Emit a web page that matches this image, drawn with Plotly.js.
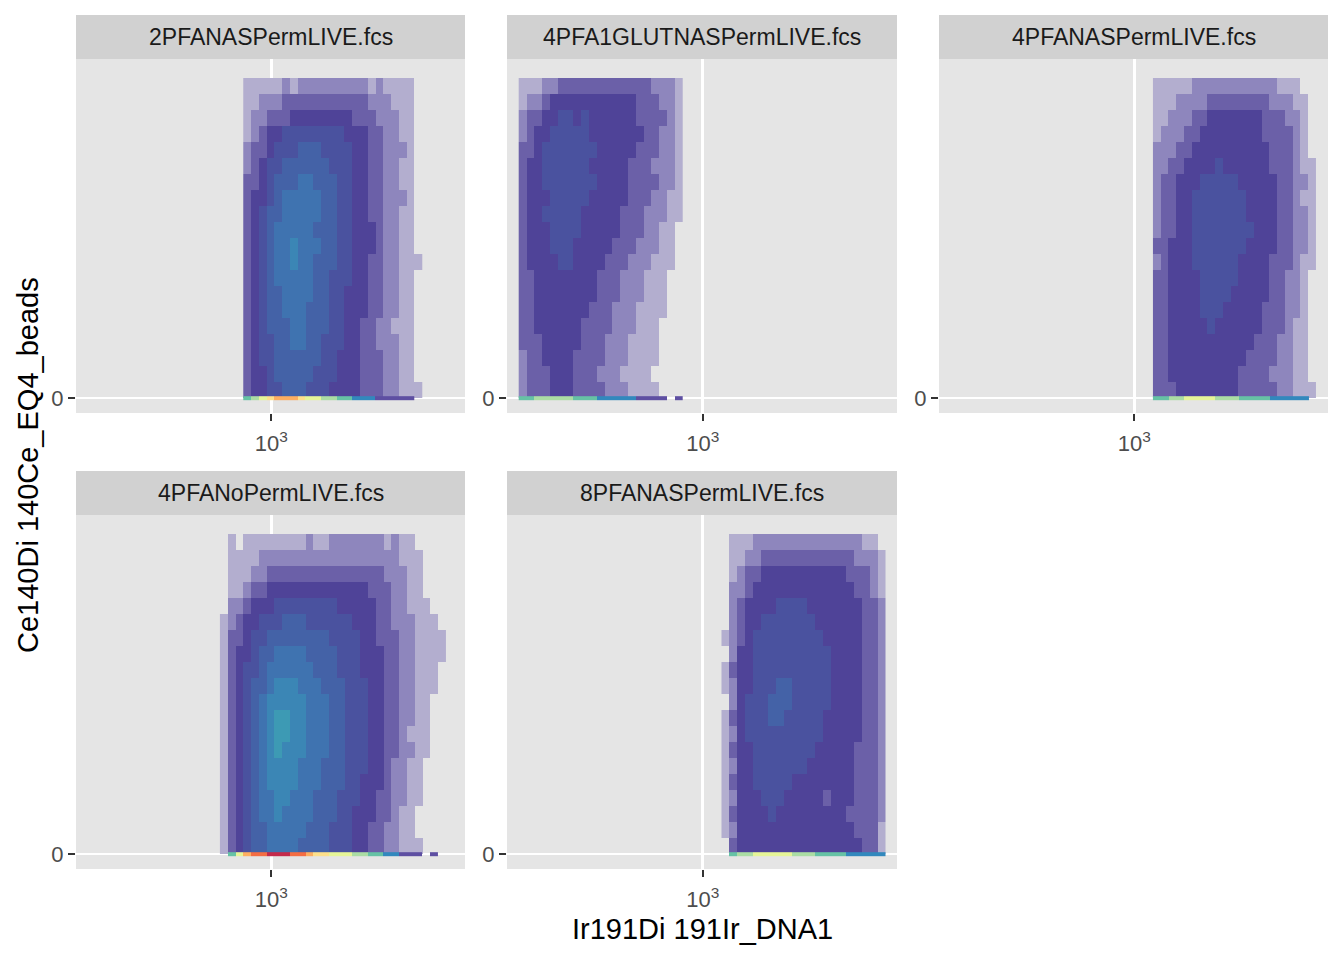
<!DOCTYPE html>
<html>
<head>
<meta charset="utf-8">
<script src="https://cdn.plot.ly/plotly-3.0.1.min.js"></script>
<style>
  html, body { margin: 0; padding: 0; background: #ffffff; }
  #myDiv { width: 1344px; height: 960px; }
</style>
</head>
<body>
<div id="myDiv"></div>
<script>
// facet names (one panel per .fcs file)
const panelNames = [
  '2PFANASPermLIVE.fcs',
  '4PFA1GLUTNASPermLIVE.fcs',
  '4PFANASPermLIVE.fcs',
  '4PFANoPermLIVE.fcs',
  '8PFANASPermLIVE.fcs'
];

// index of the first x bin of every panel (bins are 1 unit wide on the transformed x scale)
const firstBin = [22, 2, 28, 19, 28];

// y bin centres, top row first (bins are 2 units tall)
const rowCenters = [39, 37, 35, 33, 31, 29, 27, 25, 23, 21, 19, 17, 15, 13, 11, 9, 7, 5, 3, 1];

// density level per hex bin, 0 = empty, 9 = densest
const dens2PFANAS = [
  '11111212222222221211110',
  '11222333333333332221110',
  '12233344444444333222110',
  '12344555555554443322110',
  '23345556665555443322210',
  '23455666666555443322110',
  '33456667766655443322110',
  '34456777776655443322210',
  '34566777776655443322110',
  '34567777766655444322110',
  '34567787776655444322110',
  '34567787766655443322111',
  '34567777766555443322110',
  '34566777766554443322110',
  '34566777666554443322110',
  '34566677666554433221110',
  '34556677665554433222110',
  '34556666665544433322110',
  '34456666655544433322110',
  '34455666555444433322111'
];
const dens4PFA1GLUT = [
  '111223333333333332221',
  '122344444444444333221',
  '233445545444444333321',
  '234455555444444433221',
  '334555555544444333221',
  '344555555444443332221',
  '344555555544443333221',
  '344455555444443332211',
  '344555554444433322211',
  '344455554444433322110',
  '344455544444333222110',
  '344445544443332221110',
  '334444444433322211100',
  '334444444433322211100',
  '334444444333222111100',
  '334444443333222111000',
  '333444443332221111000',
  '233444433332221111000',
  '233344433322211110000',
  '233344433332221111000'
];
const dens4PFANAS = [
  '111112222222222211100',
  '111222233333333222110',
  '112223344444443332210',
  '122233444444443333210',
  '222334444444444333210',
  '223344445444444333211',
  '233444555554444433221',
  '233445555555444433211',
  '233445555555444433221',
  '233445555555544433221',
  '334445555555444433221',
  '234445555554444333211',
  '334444555554444332210',
  '334444555544444332210',
  '334444555444443332210',
  '334444454444443332110',
  '334444444444433322110',
  '334444444444333322110',
  '334444444443333222110',
  '333444444443333322111'
];
const dens4PFANoPerm = [
  '01011111111211222222212110000',
  '01111222222222222222222111000',
  '01112233333333333333322211000',
  '01123344444444444443332211000',
  '02234445555555544444332211100',
  '12344555666555555444332221110',
  '13345566666666555544333221111',
  '13445667777666655544433221111',
  '13455677777766655544433221110',
  '13456678887776665554433221110',
  '13456788888777665554433221100',
  '13456789988777665554433221100',
  '13456789988777665554433211100',
  '13456789888777665554433221100',
  '13456788887776665554432211000',
  '13456788887776665544432211000',
  '13456778877766655544332211000',
  '13456778777766655444332110000',
  '13456677777666555443322110000',
  '13456677776666555443322111000'
];
const dens8PFANAS = [
  '011122222222222222110',
  '011223333333333332221',
  '012334444444444433321',
  '022344444444444443321',
  '023444455554444444332',
  '023445555555444444332',
  '123455555555544444332',
  '024455555555554444332',
  '134455555555554444332',
  '124455566555554444332',
  '024555666555554444332',
  '134555665555544444332',
  '124555555555544444332',
  '134455555555444443332',
  '124455555554444443332',
  '134455555444444443332',
  '124445554444434443332',
  '134444544444444433332',
  '124444444444444443331',
  '034444444444444444331'
];
const densities = [dens2PFANAS, dens4PFA1GLUT, dens4PFANAS, dens4PFANoPerm, dens8PFANAS];

// bins sitting exactly on y = 0 (much denser, hence the warm colours)
const zeroRows = [
  '3456777655443322211111',
  '334444433322222111101',
  '33445555444333322222',
  '0357889998876655544332211101',
  '034455555444333322222'
];

// tick labels
const xTickVals = [25.1];
const xTickText = ['10<sup>3</sup>'];
const yTickVals = [0];
const yTickText = ['0'];

// hexbin fill (speckled purple -> blue) and reversed Spectral for the zero row
const bodyColors = ['#B3AECF', '#8E86BD', '#6B60A8', '#4F4398', '#4A529F', '#4462A7', '#3F73B0', '#3B86B5', '#3D9AB4'];
const zeroColors = ['#5E4FA2', '#3288BD', '#66C2A5', '#ABDDA4', '#E6F598', '#FEE08B', '#FDAE61', '#F46D43', '#C42A4B'];
const toScale = cols => cols.map((c, i) => [i / (cols.length - 1), c]);

// panel geometry in pixels (left, right) and rows (top, bottom), strip height
const W = 1344, H = 960;
const panelCols = [[76, 465], [507, 897], [939, 1328]];
const panelRows = [[59, 413], [515, 869]];
const stripH = 44;
const fontFam = 'Liberation Sans, Arial, Helvetica, sans-serif';

const toLevel = ch => (ch === '0' ? null : Number(ch));

var dataGrafica = [];
var layout = {
  width: W,
  height: H,
  margin: { l: 0, r: 0, t: 0, b: 0 },
  paper_bgcolor: '#FFFFFF',
  plot_bgcolor: '#E5E5E5',
  font: { family: fontFam, color: '#000000', size: 22 },
  showlegend: false,
  shapes: [],
  annotations: []
};

panelNames.forEach(function(name, p) {
  const s = p === 0 ? '' : String(p + 1);
  const col = panelCols[p % 3];
  const row = panelRows[Math.floor(p / 3)];

  const z = densities[p].map(r => r.split('').map(toLevel));
  const xs = z[0].map((_, j) => firstBin[p] + j);
  dataGrafica.push({
    type: 'heatmap',
    x: xs,
    y: rowCenters,
    z: z,
    xaxis: 'x' + s,
    yaxis: 'y' + s,
    colorscale: toScale(bodyColors),
    zmin: 1,
    zmax: 9,
    showscale: false,
    hoverinfo: 'skip'
  });

  const z0 = zeroRows[p].split('').map(toLevel);
  dataGrafica.push({
    type: 'heatmap',
    x: z0.map((_, j) => firstBin[p] + j),
    y0: 0,
    dy: 0.45,
    z: [z0],
    xaxis: 'x' + s,
    yaxis: 'y' + s,
    colorscale: toScale(zeroColors),
    zmin: 1,
    zmax: 9,
    showscale: false,
    hoverinfo: 'skip'
  });

  const axisStyle = {
    ticks: 'outside',
    ticklen: 7,
    tickwidth: 1.6,
    tickcolor: '#333333',
    showgrid: true,
    gridcolor: '#FFFFFF',
    gridwidth: 2.6,
    zeroline: false,
    showline: false,
    tickfont: { size: 22, color: '#4D4D4D', family: fontFam },
    fixedrange: true
  };

  layout['xaxis' + s] = Object.assign({}, axisStyle, {
    domain: [col[0] / W, col[1] / W],
    anchor: 'y' + s,
    range: [0, 50],
    tickmode: 'array',
    tickvals: xTickVals,
    ticktext: xTickText,
    ticklabelstandoff: 4
  });
  layout['yaxis' + s] = Object.assign({}, axisStyle, {
    domain: [1 - row[1] / H, 1 - row[0] / H],
    anchor: 'x' + s,
    range: [-1.875, 42.375],
    tickmode: 'array',
    tickvals: yTickVals,
    ticktext: yTickText
  });

  // facet strip
  layout.shapes.push({
    type: 'rect', xref: 'paper', yref: 'paper', layer: 'below',
    x0: col[0] / W, x1: col[1] / W,
    y0: 1 - row[0] / H, y1: 1 - (row[0] - stripH) / H,
    fillcolor: '#D1D1D1', line: { width: 0 }
  });
  layout.annotations.push({
    xref: 'paper', yref: 'paper', showarrow: false,
    x: (col[0] + col[1]) / 2 / W, y: 1 - (row[0] - stripH / 2) / H,
    xanchor: 'center', yanchor: 'middle',
    text: name,
    font: { size: 23, color: '#1A1A1A', family: fontFam }
  });
});

// shared axis titles
layout.annotations.push({
  xref: 'paper', yref: 'paper', showarrow: false,
  x: 702 / W, y: 1 - 929 / H, xanchor: 'center', yanchor: 'middle',
  text: 'Ir191Di 191Ir_DNA1',
  font: { size: 29, color: '#000000', family: fontFam }
});
layout.annotations.push({
  xref: 'paper', yref: 'paper', showarrow: false,
  x: 28 / W, y: 1 - 465 / H, xanchor: 'center', yanchor: 'middle',
  textangle: -90,
  text: 'Ce140Di 140Ce_EQ4_beads',
  font: { size: 29, color: '#000000', family: fontFam }
});

Plotly.newPlot('myDiv', dataGrafica, layout, { displayModeBar: false, staticPlot: true });
</script>
</body>
</html>
